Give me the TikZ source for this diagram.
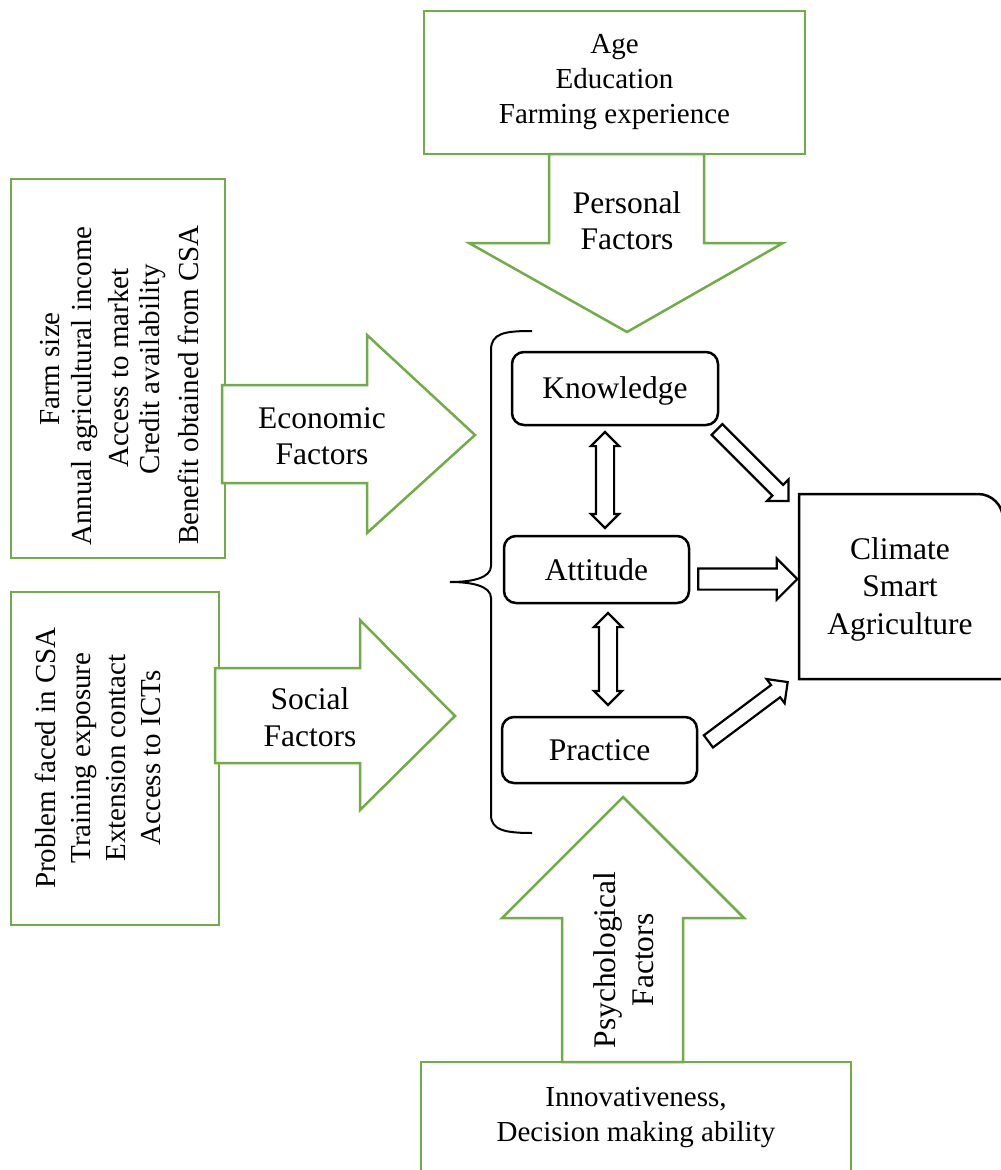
\documentclass[tikz,border=0pt]{standalone}
\usepackage{fontspec}
\setmainfont{Liberation Serif}
\usetikzlibrary{shapes.arrows}
\definecolor{grn}{HTML}{70AD47}
\begin{document}
\begin{tikzpicture}[x=1pt,y=-1pt,
  txt/.style={font=\fontsize{29}{35}\selectfont, align=center, inner sep=0pt},
  big/.style={font=\fontsize{31.5}{#1}\selectfont, align=center, inner sep=0pt},
  gbox/.style={draw=grn, line width=2.5pt, fill=white, inner sep=0pt},
  garrow/.style={draw=grn, line width=2.5pt, fill=white},
  kbox/.style={draw=black, line width=2.5pt, rounded corners=12pt, fill=white, big=37},
  sarrow/.style n args={3}{single arrow, draw=black, line width=2.2pt, fill=white,
     inner xsep=0pt, inner ysep=#2, minimum width=0pt,
     minimum height=#1, single arrow head extend=#3},
  darrow/.style n args={3}{double arrow, draw=black, line width=2.2pt, fill=white,
     inner xsep=0pt, inner ysep=#2, minimum width=0pt,
     minimum height=#1, double arrow head extend=#3}
]
\useasboundingbox (0,0) rectangle (1001,1170);
\clip (0,0) rectangle (1001,1170);

% ---- factor boxes ----
\node[gbox, txt, minimum width=381pt, minimum height=143pt] (pers) at (614.5,82.5) {Age\\Education\\Farming experience};
\node[gbox, minimum width=214pt, minimum height=379pt] (econ) at (118,368.5) {};
\node[gbox, minimum width=208pt, minimum height=333pt] (soc) at (115,758.5) {};
\node[gbox, txt, minimum width=430pt, minimum height=111pt] (psy) at (636,1117.5) {Innovativeness,\\Decision making ability};

% ---- big green arrows ----
\draw[garrow] (549,154) -- (549,243) -- (469,243) -- (627,332) -- (783,243) -- (704,243) -- (704,154) -- cycle;
\draw[garrow] (222,385) -- (367,385) -- (367,335) -- (475,435) -- (367,533) -- (367,483) -- (222,483) -- cycle;
\draw[garrow] (215,668) -- (360,668) -- (360,620) -- (455,716) -- (360,810) -- (360,763) -- (215,763) -- cycle;
\draw[garrow] (562,1062) -- (562,918) -- (502,918) -- (623,797) -- (744,918) -- (683,918) -- (683,1062) -- cycle;

% ---- texts in boxes ----
\node[txt, rotate=90] (e1) at (50,369) {Farm size};
\node[txt, rotate=90] (e2) at (85,386) {Annual agricultural income};
\node[txt, rotate=90] (e3) at (119,368) {Access to market};
\node[txt, rotate=90] (e4) at (153,369) {Credit availability};
\node[txt, rotate=90] (e5) at (188,385) {Benefit obtained from CSA};
\node[txt, rotate=90] (stxt) at (97.5,758) {Problem faced in CSA\\Training exposure\\Extension contact\\Access to ICTs};

% ---- arrow labels ----
\node[big=36] (plab) at (627,221) {Personal\\Factors};
\node[big=36] (elab) at (322,436) {Economic\\Factors};
\node[big=37] (slab) at (310,717) {Social\\Factors};
\node[big=38, rotate=90] (ylab) at (624,960) {Psychological\\Factors};

% ---- brace ----
\draw[line width=2pt] (532,331) .. controls (505,331) and (491,333) .. (491,350) -- (491,566)
  .. controls (491,578) and (472,582) .. (450,582)
  .. controls (472,582) and (491,586) .. (491,598) -- (491,815)
  .. controls (491,830) and (505,833) .. (532,833);

% ---- KAP boxes ----
\node[kbox, minimum width=206pt, minimum height=73pt, text depth=2pt] (know) at (615,388.5) {Knowledge};
\node[kbox, minimum width=185pt, minimum height=67pt] (att) at (596.5,569.5) {Attitude};
\node[kbox, minimum width=195pt, minimum height=66pt] (prac) at (599.5,750) {Practice};

% ---- CSA box ----
\draw[line width=2.5pt, fill=white] (799,494) -- (978,494) arc[start angle=-90, end angle=0, radius=25] -- (1003,679) -- (799,679) -- cycle;
\node[big=37.5] (csa) at (900,589) {Climate\\Smart\\Agriculture};

% ---- hollow block arrows ----
\node[darrow={96pt}{8pt}{5pt}, rotate=90] (ka) at (605,480) {};
\node[darrow={92pt}{8pt}{5pt}, rotate=90] (ap) at (608,659) {};
\node[sarrow={101pt}{6.5pt}{7.5pt}, rotate=-45] (kc) at (750,462.5) {};
\node[sarrow={99pt}{9.5pt}{10pt}, rotate=0] (ac) at (742.5,579) {};
\node[sarrow={99pt}{6.5pt}{7.5pt}, rotate=36.8] (pc) at (745,714) {};
\end{tikzpicture}
\end{document}
